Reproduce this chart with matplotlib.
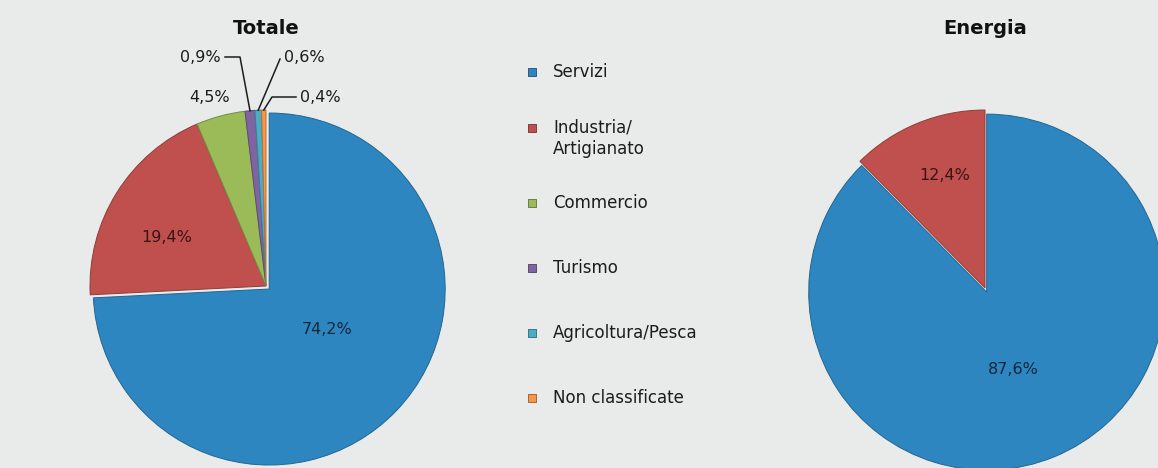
import matplotlib.pyplot as plt
import numpy as np
from matplotlib.colors import to_rgb

# data
categories = ['Servizi', 'Industria/\nArtigianato', 'Commercio', 'Turismo',
              'Agricoltura/Pesca', 'Non classificate']
totale = [74.2, 19.4, 4.5, 0.9, 0.6, 0.4]
energia = [87.6, 12.4]
colors = ['#2e86c1', '#c0504d', '#9bbb59', '#8064a2', '#4bacc6', '#f79646']

W, H = 1158, 468
BG = '#e8ebe9'


def fmt(v):
    return ('%.1f%%' % v).replace('.', ',')


def darker(c, f=0.75):
    r, g, b = to_rgb(c)
    return (r * f, g * f, b * f)


def pie_axes(fig, cx, cy, r):
    # cx, cy, r in pixels (y from top)
    ax = fig.add_axes([(cx - r) / W, (H - cy - r) / H, 2 * r / W, 2 * r / H])
    ax.axis('off')
    return ax


def draw_pie(ax, values, cols):
    explode = [0.025] + [0] * (len(values) - 1)
    wedges, _ = ax.pie(values, colors=cols, startangle=90, counterclock=False,
                       explode=explode, radius=1.0,
                       wedgeprops=dict(linewidth=0.7))
    for w, c in zip(wedges, cols):
        w.set_edgecolor(darker(c))
    ax.set_xlim(-1, 1)
    ax.set_ylim(-1, 1)
    return wedges


def edge(w):
    a = np.deg2rad((w.theta1 + w.theta2) / 2)
    cx, cy = w.center
    return cx + np.cos(a), cy + np.sin(a)


def main():
    plt.rcParams['font.family'] = ['DejaVu Sans']
    fig = plt.figure(figsize=(W / 100, H / 100), dpi=100, facecolor=BG)

    fs = 11.5
    tc = '#1c1c1c'

    # ---- Totale ----
    cx, cy, r = 266, 286, 176
    ax1 = pie_axes(fig, cx, cy, r)
    w1 = draw_pie(ax1, totale, colors)
    ax1.text((327 - cx) / r, (cy - 330) / r, fmt(totale[0]), ha='center', va='center', fontsize=fs, color='#14283a')
    ax1.text((167 - cx) / r, (cy - 237) / r, fmt(totale[1]), ha='center', va='center', fontsize=fs, color='#3a1414')
    ax1.text((210 - cx) / r, (cy - 97) / r, fmt(totale[2]), ha='center', va='center', fontsize=fs, color=tc, clip_on=False)

    # leader lines for the thin slices
    x, y = edge(w1[3])
    ax1.plot([(225 - cx) / r, (240 - cx) / r, x], [(cy - 57) / r, (cy - 57) / r, y], color=tc, lw=1.1, clip_on=False)
    ax1.text((221 - cx) / r, (cy - 57) / r, fmt(totale[3]), ha='right', va='center', fontsize=fs, color=tc)
    x, y = edge(w1[4])
    ax1.plot([(280 - cx) / r, x], [(cy - 59) / r, y], color=tc, lw=1.1, clip_on=False)
    ax1.text((284 - cx) / r, (cy - 57) / r, fmt(totale[4]), ha='left', va='center', fontsize=fs, color=tc)
    x, y = edge(w1[5])
    ax1.plot([(296 - cx) / r, (272 - cx) / r, x], [(cy - 97) / r, (cy - 97) / r, y], color=tc, lw=1.1, clip_on=False)
    ax1.text((300 - cx) / r, (cy - 97) / r, fmt(totale[5]), ha='left', va='center', fontsize=fs, color=tc)

    # ---- Energia ----
    cx, cy, r = 985, 288, 178
    ax2 = pie_axes(fig, cx, cy, r)
    draw_pie(ax2, energia, colors[:2])
    ax2.text((945 - cx) / r, (cy - 175) / r, fmt(energia[1]), ha='center', va='center', fontsize=fs, color='#3a1414')
    ax2.text((1013 - cx) / r, (cy - 370) / r, fmt(energia[0]), ha='center', va='center', fontsize=fs, color='#14283a')

    # titles
    fig.text(266 / W, 1 - 28 / H, 'Totale', ha='center', va='center',
             fontsize=14, fontweight='bold', color='#111111')
    fig.text(985 / W, 1 - 29 / H, 'Energia', ha='center', va='center',
             fontsize=14, fontweight='bold', color='#111111')

    # legend
    lax = fig.add_axes([0, 0, 1, 1], zorder=-1)
    lax.set_xlim(0, W)
    lax.set_ylim(H, 0)
    lax.axis('off')
    rows = [72, 128, 203, 268, 333, 398]
    for cat, c, yy in zip(categories, colors, rows):
        lax.scatter([532], [yy], marker='s', s=38, color=c, edgecolors=darker(c, 0.6), linewidths=0.6)
        if '\n' in cat:
            lax.text(553, yy - 10, cat, ha='left', va='top', fontsize=12,
                     color=tc, linespacing=1.3)
        else:
            lax.text(553, yy, cat, ha='left', va='center', fontsize=12, color=tc)

    fig.savefig('out.png', dpi=100, facecolor=BG)


if __name__ == "__main__": main()
